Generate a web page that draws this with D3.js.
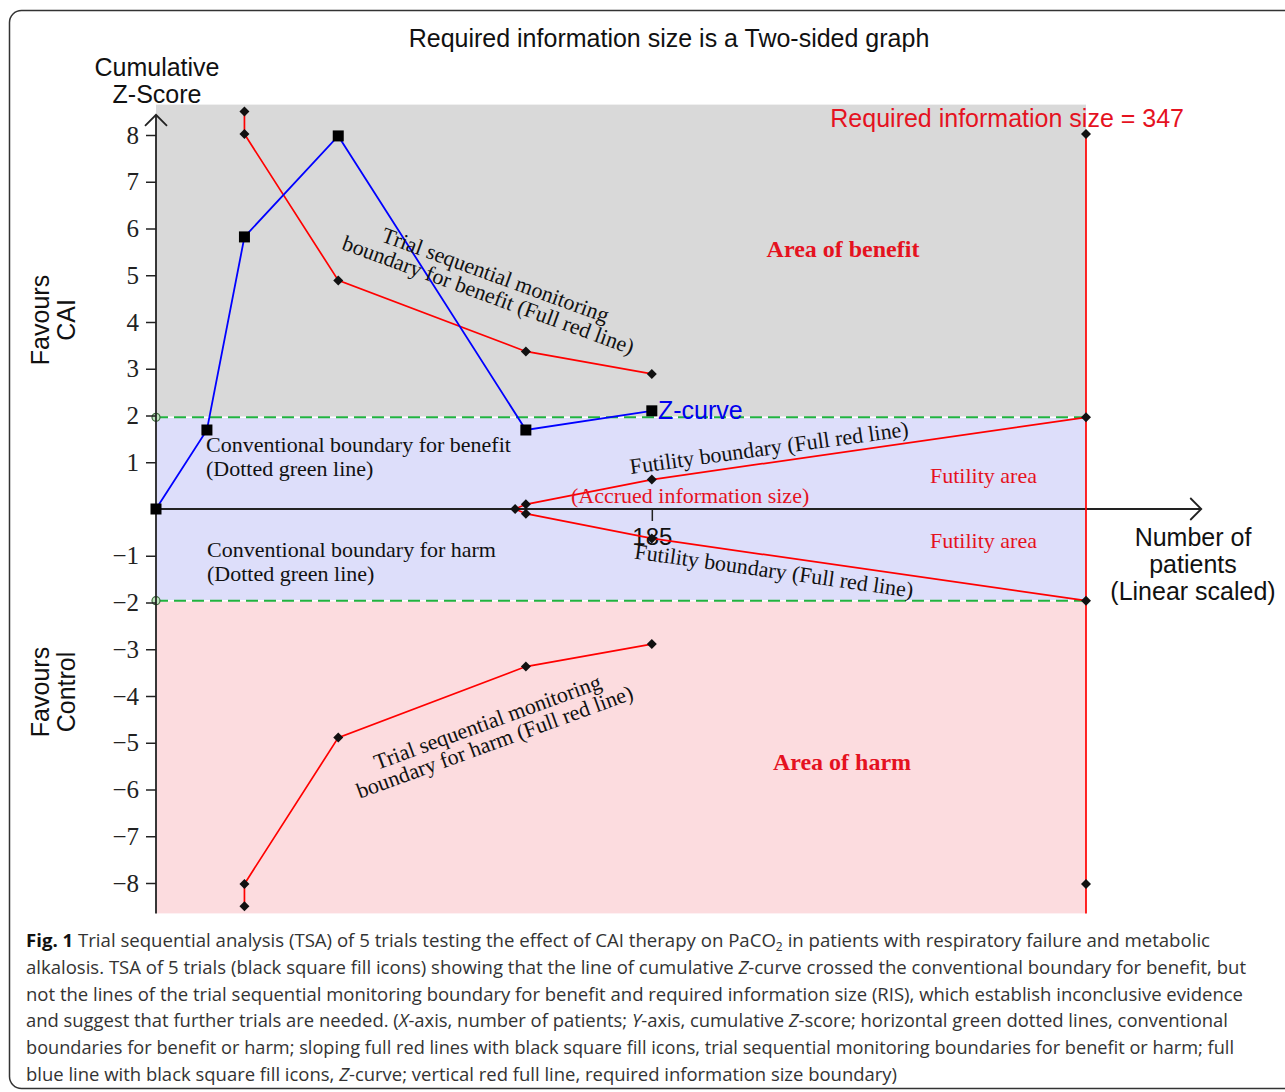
<!DOCTYPE html>
<html>
<head>
<meta charset="utf-8">
<script src="https://cdn.jsdelivr.net/npm/d3@7"></script>
<style>
body { margin: 0; background: #fff; }
svg { display: block; }
</style>
</head>
<body>
<script>
// values
var zX = [0, 19, 33, 68, 138, 185];
var zScore = [0, 1.69, 5.82, 7.98, 1.69, 2.10];
var boundaryX = [33, 33, 68, 138, 185];
var benefitZ = [8.5, 8.02, 4.89, 3.37, 2.89];
var harmZ = [-8.5, -8.02, -4.89, -3.37, -2.89];
var futilityX = [134, 138, 185, 347];
var futilityUpperZ = [0, 0.10, 0.63, 1.96];
var futilityLowerZ = [0, -0.10, -0.63, -1.96];
var risSize = 347;
var risZ = [8.02, -8.02];
var conventionalZ = [1.96, -1.96];
var bandTop = [8.65, 1.96, -1.96];
var bandBottom = [1.96, -1.96, -8.65];
var yTicks = [-8, -7, -6, -5, -4, -3, -2, -1, 1, 2, 3, 4, 5, 6, 7, 8];
var xTicks = [185];

var sans = "'Liberation Sans', Arial, sans-serif";
var serif = "'Liberation Serif', 'Times New Roman', serif";
var red = '#ff0000';
var redText = '#e5121f';

var svg = d3.select('body').append('svg')
  .attr('width', 1285)
  .attr('height', 1092);

var x = d3.scaleLinear().domain([0, risSize]).range([156, 1086]);
var y = d3.scaleLinear().domain([-8, 8]).range([883, 135]);

var zip = function(xs, ys) {
  return xs.map(function(v, i) { return [v, ys[i]]; });
};
var line = d3.line().x(function(d) { return x(d[0]); }).y(function(d) { return y(d[1]); });

// outer rounded frame
svg.append('rect')
  .attr('x', 9.5).attr('y', 10.5)
  .attr('width', 1300).attr('height', 1078)
  .attr('rx', 12)
  .style('fill', 'none')
  .style('stroke', '#333')
  .style('stroke-width', 1.5);

// background areas
var bandColors = ['#d9d9d9', '#dddefa', '#fcdcdf'];
svg.selectAll('.band')
  .data(bandTop)
  .enter().append('rect')
  .attr('class', 'band')
  .attr('x', x(0))
  .attr('width', x(risSize) - x(0))
  .attr('y', function(d) { return y(d); })
  .attr('height', function(d, i) { return y(bandBottom[i]) - y(d); })
  .style('fill', function(d, i) { return bandColors[i]; });

// conventional boundaries (dotted green)
conventionalZ.forEach(function(z) {
  svg.append('line')
    .attr('x1', x(0)).attr('x2', x(risSize))
    .attr('y1', y(z)).attr('y2', y(z))
    .style('stroke', '#fff').style('stroke-width', 1.5);
  svg.append('line')
    .attr('x1', x(0)).attr('x2', x(risSize))
    .attr('y1', y(z)).attr('y2', y(z))
    .style('stroke', '#21b33f').style('stroke-width', 2)
    .style('stroke-dasharray', '12,6');
  svg.append('circle')
    .attr('cx', x(0)).attr('cy', y(z)).attr('r', 4)
    .style('fill', '#bfe6bf').style('stroke', '#3d6a3d').style('stroke-width', 1.2);
});

// axes
var axisColor = '#222';
var yAxis = svg.append('g')
  .attr('transform', 'translate(' + x(0) + ',0)')
  .call(d3.axisLeft(y).tickValues(yTicks).tickSize(10).tickPadding(7)
    .tickFormat(function(d) { return d < 0 ? '\u2212' + Math.abs(d) : d; }));
yAxis.select('.domain').remove();
yAxis.selectAll('line').style('stroke', axisColor).style('stroke-width', 1.5);
yAxis.selectAll('text')
  .style('font-family', serif).style('font-size', '25px').style('fill', '#222');

var xAxis = svg.append('g')
  .attr('transform', 'translate(0,' + y(0) + ')')
  .call(d3.axisBottom(x).tickValues(xTicks).tickSize(12).tickPadding(7).tickFormat(d3.format('d')));
xAxis.select('.domain').remove();
xAxis.selectAll('line').style('stroke', axisColor).style('stroke-width', 1.5);
xAxis.selectAll('text')
  .style('font-family', sans).style('font-size', '24px').style('fill', '#111');

// axis lines with open arrow heads
var yTop = y(8.43), xEnd = x(390);
svg.append('line')
  .attr('x1', x(0)).attr('x2', x(0))
  .attr('y1', y(bandBottom[2])).attr('y2', yTop)
  .style('stroke', axisColor).style('stroke-width', 1.8);
svg.append('path')
  .attr('d', 'M' + (x(0) - 11) + ',' + (yTop + 11) + 'L' + x(0) + ',' + yTop + 'L' + (x(0) + 11) + ',' + (yTop + 11))
  .style('fill', 'none').style('stroke', axisColor).style('stroke-width', 1.8);
svg.append('line')
  .attr('x1', x(0)).attr('x2', xEnd)
  .attr('y1', y(0)).attr('y2', y(0))
  .style('stroke', axisColor).style('stroke-width', 1.8);
svg.append('path')
  .attr('d', 'M' + (xEnd - 11) + ',' + (y(0) - 11) + 'L' + xEnd + ',' + y(0) + 'L' + (xEnd - 11) + ',' + (y(0) + 11))
  .style('fill', 'none').style('stroke', axisColor).style('stroke-width', 1.8);

// red boundaries
var redLines = [
  zip(boundaryX, benefitZ),
  zip(boundaryX, harmZ),
  zip(futilityX, futilityUpperZ),
  zip(futilityX, futilityLowerZ),
  [[risSize, risZ[0]], [risSize, bandBottom[2]]]
];
svg.selectAll('.red-line')
  .data(redLines)
  .enter().append('path')
  .attr('class', 'red-line')
  .attr('d', line)
  .style('fill', 'none')
  .style('stroke', red)
  .style('stroke-width', 1.7);

// Z-curve
svg.append('path')
  .datum(zip(zX, zScore))
  .attr('d', line)
  .style('fill', 'none')
  .style('stroke', '#0000ff')
  .style('stroke-width', 1.8);

var diamonds = []
  .concat(zip(boundaryX, benefitZ))
  .concat(zip(boundaryX, harmZ))
  .concat(zip(futilityX, futilityUpperZ))
  .concat(zip(futilityX, futilityLowerZ).slice(1))
  .concat(zip([risSize, risSize], risZ));
var diamond = d3.symbol().type(d3.symbolSquare).size(50);
svg.selectAll('.diamond')
  .data(diamonds)
  .enter().append('path')
  .attr('class', 'diamond')
  .attr('d', diamond)
  .attr('transform', function(d) { return 'translate(' + x(d[0]) + ',' + y(d[1]) + ') rotate(45)'; })
  .style('fill', '#111');

svg.selectAll('.square')
  .data(zip(zX, zScore))
  .enter().append('rect')
  .attr('class', 'square')
  .attr('x', function(d) { return x(d[0]) - 5.5; })
  .attr('y', function(d) { return y(d[1]) - 5.5; })
  .attr('width', 11).attr('height', 11)
  .style('fill', '#000');

// text helpers: one <text> per label, extra lines as tspans
var block = function(cx, cy, angle, lines, font, size, color, gap, anchor, weight) {
  var t = svg.append('text')
    .attr('transform', 'translate(' + cx + ',' + cy + ') rotate(' + angle + ')')
    .attr('text-anchor', anchor || 'middle')
    .style('font-family', font)
    .style('font-size', size + 'px')
    .style('font-weight', weight || 'normal')
    .style('fill', color);
  lines.forEach(function(s, i) {
    t.append('tspan')
      .attr('x', 0).attr('y', i * gap)
      .text(s);
  });
  return t;
};
var label = function(px, py, str, font, size, color, anchor, weight) {
  return block(px, py, 0, [str], font, size, color, 0, anchor || 'start', weight);
};

label(669, 47, 'Required information size is a Two-sided graph', sans, 25, '#111', 'middle');
block(157, 76, 0, ['Cumulative', 'Z-Score'], sans, 25, '#111', 27);
block(49, 320, -90, ['Favours', 'CAI'], sans, 25, '#111', 26);
block(49, 692, -90, ['Favours', 'Control'], sans, 25, '#111', 26);
block(1193, 546, 0, ['Number of', 'patients', '(Linear scaled)'], sans, 25, '#111', 27);

label(1184, 127, 'Required information size = 347', sans, 25, redText, 'end');
label(843, 257, 'Area of benefit', serif, 24, redText, 'middle', 'bold');
label(842, 770, 'Area of harm', serif, 24, redText, 'middle', 'bold');
label(930, 483, 'Futility area', serif, 22, redText);
label(930, 548, 'Futility area', serif, 22, redText);
label(571, 503, '(Accrued information size)', serif, 22, redText);
label(658, 419, 'Z-curve', sans, 25, '#0000ee');

block(206, 452, 0, ['Conventional boundary for benefit', '(Dotted green line)'], serif, 22, '#111', 23.5, 'start');
block(207, 557, 0, ['Conventional boundary for harm', '(Dotted green line)'], serif, 22, '#111', 23.5, 'start');

block(493, 282, 20, ['Trial sequential monitoring', 'boundary for benefit (Full red line)'], serif, 22, '#111', 21);
block(490, 729, -20, ['Trial sequential monitoring', 'boundary for harm (Full red line)'], serif, 22, '#111', 21);
block(770, 455, -7.8, ['Futility boundary (Full red line)'], serif, 22, '#111', 21);
block(773, 578, 8, ['Futility boundary (Full red line)'], serif, 22, '#111', 21);

// caption
var captionLines = [
  [['Fig. 1', 'b'], [' Trial sequential analysis (TSA) of 5 trials testing the effect of CAI therapy on PaCO'], ['2', 'sub'], [' in patients with respiratory failure and metabolic']],
  [['alkalosis. TSA of 5 trials (black square fill icons) showing that the line of cumulative '], ['Z', 'i'], ['-curve crossed the conventional boundary for benefit, but']],
  [['not the lines of the trial sequential monitoring boundary for benefit and required information size (RIS), which establish inconclusive evidence']],
  [['and suggest that further trials are needed. ('], ['X', 'i'], ['-axis, number of patients; '], ['Y', 'i'], ['-axis, cumulative '], ['Z', 'i'], ['-score; horizontal green dotted lines, conventional']],
  [['boundaries for benefit or harm; sloping full red lines with black square fill icons, trial sequential monitoring boundaries for benefit or harm; full']],
  [['blue line with black square fill icons, '], ['Z', 'i'], ['-curve; vertical red full line, required information size boundary)']]
];
var captionEnds = [1210, 1246, 1243, 1228, 1234, 897];

captionLines.forEach(function(parts, i) {
  var t = svg.append('text')
    .attr('x', 26).attr('y', 947 + i * 26.8)
    .attr('textLength', captionEnds[i] - 26)
    .attr('lengthAdjust', 'spacingAndGlyphs')
    .style('font-family', "'Open Sans', sans-serif")
    .style('font-size', '18.5px')
    .style('fill', '#333');
  var shifted = false;
  parts.forEach(function(p) {
    var ts = t.append('tspan').text(p[0]);
    if (p[1] === 'b') ts.style('font-weight', 'bold').style('fill', '#111');
    if (p[1] === 'i') ts.style('font-style', 'italic');
    if (p[1] === 'sub') { ts.attr('dy', 4).style('font-size', '12px'); shifted = true; }
    else if (shifted) { ts.attr('dy', -4); shifted = false; }
  });
});
</script>
</body>
</html>
